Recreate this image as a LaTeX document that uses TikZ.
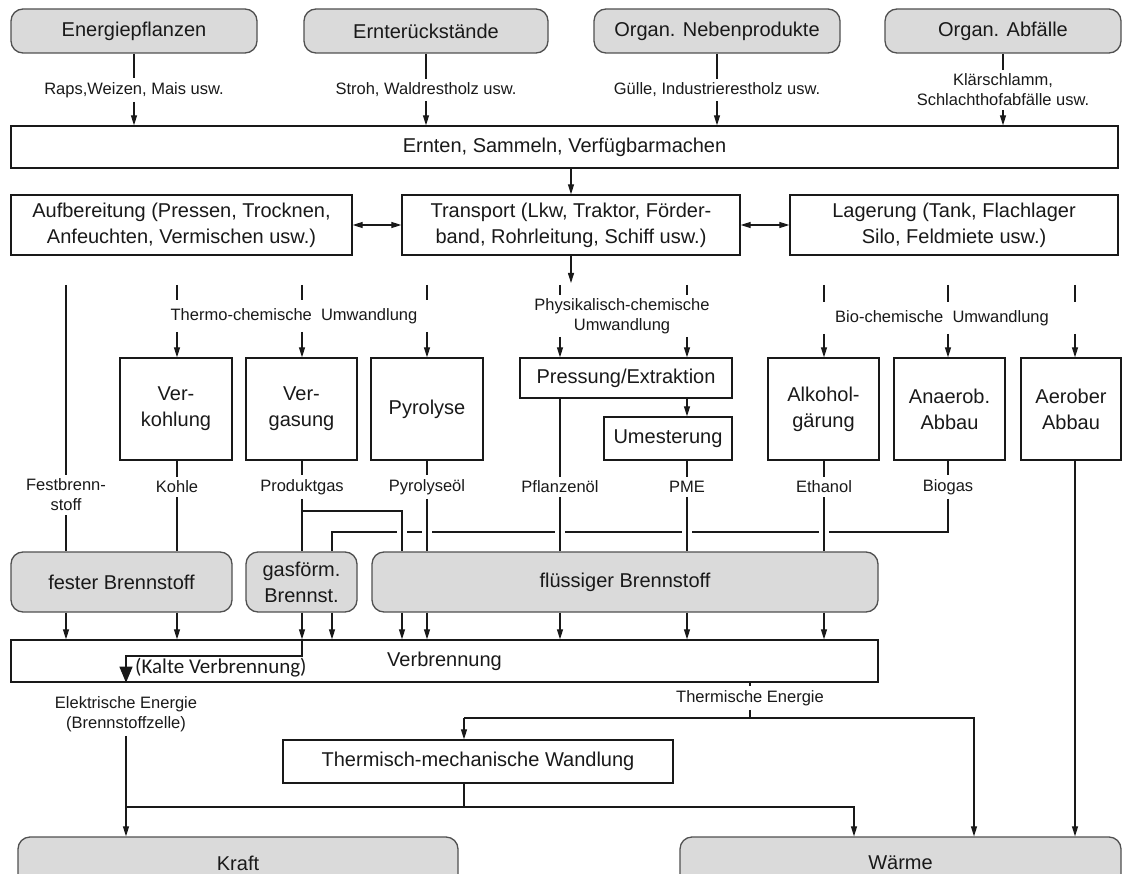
\documentclass[tikz,border=0pt]{standalone}
\usepackage{fontspec}
\setmainfont{Liberation Sans}
\newfontfamily\kaltfont{Carlito}
\usetikzlibrary{arrows.meta}
\definecolor{boxgray}{RGB}{218,218,218}
\definecolor{edgegray}{RGB}{80,80,80}
\definecolor{ink}{RGB}{25,25,25}
\begin{document}
\begin{tikzpicture}[x=1pt,y=-1pt,color=ink,
  box/.style={draw, line width=1.3pt, inner sep=0pt, align=center, font=\fontsize{20}{26}\selectfont},
  fuel/.style={box, draw=edgegray, fill=boxgray, rounded corners=12pt},
  lbl/.style={inner xsep=2pt, inner ysep=4pt, align=center, font=\fontsize{16.5}{20}\selectfont},
  grp/.style={lbl, inner ysep=8pt},
  link/.style={line width=1.1pt},
  arr/.style={link, -{Triangle[length=10pt,width=6pt]}},
  twoway/.style={link, {Triangle[length=10pt,width=6pt]}-{Triangle[length=10pt,width=6pt]}},
  bridge/.style={preaction={draw=white, line width=10pt, shorten <=4pt, shorten >=4pt}}]
\useasboundingbox (0,0) rectangle (1123,874);
\clip (0,0) rectangle (1123,874);
% sources of biomass
\node[fuel, minimum width=246pt, minimum height=44pt] (crops) at (134,31) {Energiepflanzen};
\node[fuel, minimum width=244pt, minimum height=44pt] (resid) at (426,31) {Ernterückstände};
\node[fuel, minimum width=246pt, minimum height=44pt] (byprod) at (717,31) {Organ. Nebenprodukte};
\node[fuel, minimum width=236pt, minimum height=44pt] (waste) at (1003,31) {Organ. Abfälle};
\node[lbl] (cropsx) at (134,90) {Raps,Weizen, Mais usw.};
\node[lbl] (residx) at (426,90) {Stroh, Waldrestholz usw.};
\node[lbl] (byprodx) at (717,90) {Gülle, Industrierestholz usw.};
\node[lbl] (wastex) at (1003,90) {Klärschlamm,\\Schlachthofabfälle usw.};
\node[box, minimum width=1107pt, minimum height=42pt] (harvest) at (564.5,147) {Ernten, Sammeln, Verfügbarmachen};
% supply chain
\node[box, minimum width=341pt, minimum height=60pt] (prep) at (181.5,225) {Aufbereitung (Pressen, Trocknen,\\Anfeuchten, Vermischen usw.)};
\node[box, minimum width=338pt, minimum height=60pt] (trans) at (571,225) {Transport (Lkw, Traktor, Förder-\\band, Rohrleitung, Schiff usw.)};
\node[box, minimum width=328pt, minimum height=60pt] (store) at (954,225) {Lagerung (Tank, Flachlager\\Silo, Feldmiete usw.)};
\coordinate (split) at (571,283);
% conversion columns
\coordinate (c1) at (66,285);
\coordinate (c2) at (177,285);
\coordinate (c3) at (302,285);
\coordinate (c4) at (427,285);
\coordinate (c5) at (560,285);
\coordinate (c6) at (687,285);
\coordinate (c7) at (824,285);
\coordinate (c8) at (948,285);
\coordinate (c9) at (1075,285);
\node[grp] (thermo) at (294,316) {Thermo-chemische\ \ Umwandlung};
\node[grp, inner ysep=3pt] (phys) at (622,316) {Physikalisch-chemische\\Umwandlung};
\node[grp] (bio) at (942,318) {Bio-chemische\ \ Umwandlung};
\node[box, minimum width=112pt, minimum height=102pt] (char) at (176,409) {Ver-\\kohlung};
\node[box, minimum width=111pt, minimum height=102pt] (gasif) at (301.5,409) {Ver-\\gasung};
\node[box, minimum width=112pt, minimum height=102pt] (pyro) at (427,409) {Pyrolyse};
\node[box, minimum width=212pt, minimum height=40pt] (press) at (626,378) {Pressung/Extraktion};
\node[box, minimum width=128pt, minimum height=43pt] (trest) at (668,438.5) {Umesterung};
\node[box, minimum width=111pt, minimum height=102pt] (alc) at (823.5,409) {Alkohol-\\gärung};
\node[box, minimum width=111pt, minimum height=102pt] (anae) at (949.5,409) {Anaerob.\\Abbau};
\node[box, minimum width=100pt, minimum height=102pt] (aero) at (1071,409) {Aerober\\Abbau};
% products
\node[lbl] (fest) at (66,495) {Festbrenn-\\stoff};
\node[lbl] (coal) at (177,487) {Kohle};
\node[lbl] (pgas) at (302,487) {Produktgas};
\node[lbl] (poel) at (427,487) {Pyrolyseöl};
\node[lbl] (pfl) at (560,487) {Pflanzenöl};
\node[lbl] (pme) at (687,487) {PME};
\node[lbl] (eth) at (824,487) {Ethanol};
\node[lbl] (bgas) at (948,487) {Biogas};
\coordinate (pgfork) at (302,511);
\coordinate (pgturn) at (402,511);
\coordinate (bgturn) at (948,532);
\coordinate (gasin) at (332,532);
% fuels
\node[fuel, minimum width=221pt, minimum height=60pt] (solid) at (121.5,582) {fester Brennstoff};
\node[fuel, minimum width=111pt, minimum height=60pt] (gas) at (301.5,582) {gasförm.\\Brennst.};
\node[fuel, minimum width=506pt, minimum height=60pt] (liquid) at (625,582) {flüssiger Brennstoff};
\node[box, minimum width=867pt, minimum height=42pt] (burn) at (444.5,661) {Verbrennung};
\node[anchor=west, inner sep=0pt, font=\kaltfont\fontsize{21}{24}\selectfont] (cold) at (135,668) {(Kalte Verbrennung)};
\coordinate (coldbend) at (302,656);
% energy use
\node[lbl] (elec) at (126,714) {Elektrische Energie\\(Brennstoffzelle)};
\node[lbl] (heat) at (750,698) {Thermische Energie};
\node[box, minimum width=390pt, minimum height=43pt] (mech) at (478,761.5) {Thermisch-mechanische Wandlung};
\node[fuel, minimum width=440pt, minimum height=52pt] (power) at (238,863) {Kraft};
\node[fuel, minimum width=441pt, minimum height=52pt] (warm) at (900.5,863) {Wärme};
\coordinate (heatfork) at (464,718);
\coordinate (heatR) at (974,718);
\coordinate (powerbus) at (464,807);
\coordinate (busR) at (854,807);
% connectors top
\foreach \s/\t in {crops/cropsx, resid/residx, byprod/byprodx, waste/wastex}{
  \draw[link] (\s) -- (\t);
  \draw[arr] (\t) -- (\t |- harvest.north);
}
\draw[arr] (harvest.south -| trans) -- (trans);
\draw[twoway] (prep) -- (trans);
\draw[twoway] (trans) -- (store);
\draw[arr] (trans) -- (split);
% connectors conversion
\foreach \c/\b in {c2/char, c3/gasif, c4/pyro}{
  \draw[link] (\c) -- (\c |- thermo.north);
  \draw[arr] (\c |- thermo.south) -- (\c |- \b.north);
}
\foreach \c in {c5, c6}{
  \draw[link] (\c) -- (\c |- phys.north);
  \draw[arr] (\c |- phys.south) -- (\c |- press.north);
}
\foreach \c/\b in {c7/alc, c8/anae, c9/aero}{
  \draw[link] (\c) -- (\c |- bio.north);
  \draw[arr] (\c |- bio.south) -- (\c |- \b.north);
}
\draw[arr] (press.south -| c6) -- (c6 |- trest.north);
\draw[link] (c1) -- (fest);
\draw[link] (fest) -- (c1 |- solid.north);
\foreach \c/\b/\p in {c2/char/coal, c3/gasif/pgas, c4/pyro/poel, c5/press/pfl, c6/trest/pme, c7/alc/eth, c8/anae/bgas}
  \draw[link] (\b.south -| \c) -- (\p);
\draw[link] (coal) -- (c2 |- solid.north);
\draw[link] (pgas) -- (c3 |- gas.north);
\draw[link] (bgas) -- (bgturn) -- (gasin) -- (gasin |- gas.north);
\draw[link, bridge] (pgfork) -- (pgturn) -- (pgturn |- liquid.north);
\foreach \c/\p in {c4/poel, c5/pfl, c6/pme, c7/eth}
  \draw[link, bridge] (\p) -- (\c |- liquid.north);
% connectors fuels
\foreach \c/\f in {c1/solid, c2/solid, c3/gas, gasin/gas, pgturn/liquid, c4/liquid, c5/liquid, c6/liquid, c7/liquid}
  \draw[arr] (\f.south -| \c) -- (\c |- burn.north);
\draw[link, line width=1.3pt, -{Triangle[length=16pt,width=13pt]}] (c3 |- burn.north) -- (coldbend) -| (elec.north |- burn.south);
% connectors energy
\draw[arr] (elec) -- (elec |- power.north);
\draw[link] (burn.south -| heat) -- (heat);
\draw[link] (heat) -- (heat |- heatfork);
\draw[arr] (heatfork) -- (heatfork |- mech.north);
\draw[arr] (heatfork) -- (heatR) -- (heatR |- warm.north);
\draw[link] (mech.south -| powerbus) -- (powerbus);
\draw[arr] (elec |- powerbus) -- (busR) -- (busR |- warm.north);
\draw[arr] (aero.south -| c9) -- (c9 |- warm.north);
\end{tikzpicture}
\end{document}
